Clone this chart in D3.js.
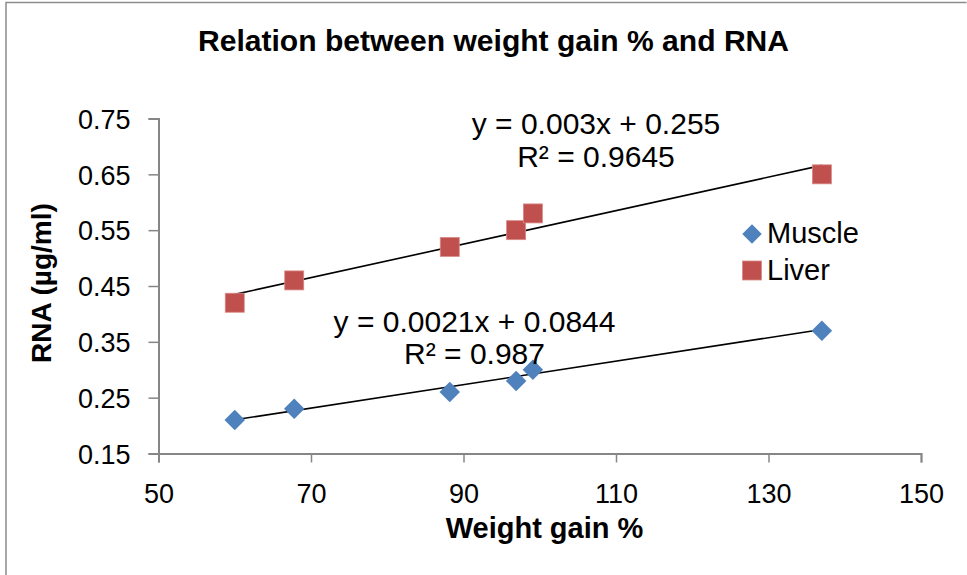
<!DOCTYPE html>
<html>
<head>
<meta charset="utf-8">
<script src="https://cdn.jsdelivr.net/npm/d3@7"></script>
<style>
  html, body { margin: 0; padding: 0; background: #fff; }
  svg { display: block; font-family: "Liberation Sans", Arial, sans-serif; }
</style>
</head>
<body>
<svg id="chart" width="967" height="575"></svg>
<script>
// Weight gain (%) of each group
const weightGain = [60, 67.8, 88.2, 96.9, 99.1, 137];
// RNA concentration (µg/ml) per tissue
const muscleRNA = [0.21, 0.23, 0.26, 0.28, 0.30, 0.37];
const liverRNA  = [0.42, 0.46, 0.52, 0.55, 0.58, 0.65];
// Linear trendlines: [slope, intercept, R²]
const muscleFit = [0.0021, 0.0844, 0.987];
const liverFit  = [0.003, 0.255, 0.9645];
// Axis ticks
const xTicks = [50, 70, 90, 110, 130, 150];
const yTicks = [0.15, 0.25, 0.35, 0.45, 0.55, 0.65, 0.75];
const seriesNames = ["Muscle", "Liver"];

const BLUE = "#4F81BD", RED = "#C0504D", AXIS = "#868686";
const FONT = "'Liberation Sans', Arial, sans-serif";

const svg = d3.select("#chart");

// outer frame
svg.append("path")
  .attr("d", "M6,575 V2.5 H966.5")
  .attr("fill", "none").attr("stroke", "#8c8c8c").attr("stroke-width", 1.5);

const x = d3.scaleLinear().domain([50, 150]).range([158.5, 921]);
const y = d3.scaleLinear().domain([0.15, 0.75]).range([453.5, 118.5]);

// title
svg.append("text")
  .attr("x", 493.5).attr("y", 51)
  .attr("text-anchor", "middle")
  .attr("font-size", 30).attr("font-weight", "bold")
  .attr("textLength", 591).attr("lengthAdjust", "spacingAndGlyphs")
  .text("Relation between weight gain % and RNA");

// y axis
const yAxis = svg.append("g")
  .attr("transform", `translate(${x(50)},0)`)
  .call(d3.axisLeft(y).tickValues(yTicks).tickFormat(d3.format(".2f")).tickSize(10).tickPadding(18));
// x axis
const xAxis = svg.append("g")
  .attr("transform", `translate(0,${y(0.15)})`)
  .call(d3.axisBottom(x).tickValues(xTicks).tickFormat(d3.format("d")).tickSize(9).tickPadding(21));

[yAxis, xAxis].forEach(g => {
  g.select(".domain").attr("stroke", AXIS).attr("stroke-width", 2);
  g.selectAll(".tick line").attr("stroke", AXIS).attr("stroke-width", 1.5);
  g.selectAll(".tick text").attr("fill", "#000").attr("font-size", 27)
    .attr("font-family", FONT);
});
yAxis.selectAll(".tick text").attr("dy", "0.36em");
xAxis.selectAll(".tick text").attr("dy", "0.72em");

// axis titles
svg.append("text")
  .attr("x", 544.5).attr("y", 538)
  .attr("text-anchor", "middle")
  .attr("font-size", 29).attr("font-weight", "bold")
  .text("Weight gain %");

svg.append("text")
  .attr("transform", "translate(51,283) rotate(-90)")
  .attr("text-anchor", "middle")
  .attr("font-size", 28).attr("font-weight", "bold")
  .text("RNA (µg/ml)");

// trendlines, drawn over the data range from the stated equations
const xMin = d3.min(weightGain), xMax = d3.max(weightGain);
[muscleFit, liverFit].forEach(f => {
  svg.append("line")
    .attr("x1", x(xMin)).attr("y1", y(f[0] * xMin + f[1]))
    .attr("x2", x(xMax)).attr("y2", y(f[0] * xMax + f[1]))
    .attr("stroke", "#000").attr("stroke-width", 1.6);
});

// markers
const diamond = d3.symbol().type(d3.symbolSquare).size(210);
svg.append("g").selectAll("path")
  .data(weightGain.map((w, i) => [w, muscleRNA[i]]))
  .join("path")
  .attr("d", diamond)
  .attr("transform", d => `translate(${x(d[0])},${y(d[1])}) rotate(45)`)
  .attr("fill", BLUE);

svg.append("g").selectAll("rect")
  .data(weightGain.map((w, i) => [w, liverRNA[i]]))
  .join("rect")
  .attr("x", d => x(d[0]) - 9.5).attr("y", d => y(d[1]) - 9.5)
  .attr("width", 19).attr("height", 19)
  .attr("fill", RED).attr("stroke", "#d88a88").attr("stroke-width", 0.8);

// trendline equations
function eqLabel(f, cx, y1, y2) {
  svg.append("text").attr("x", cx).attr("y", y1).attr("text-anchor", "middle")
    .attr("font-size", 30).text(`y = ${f[0]}x + ${f[1]}`);
  svg.append("text").attr("x", cx).attr("y", y2).attr("text-anchor", "middle")
    .attr("font-size", 30).text(`R² = ${f[2]}`);
}
eqLabel(liverFit, 596, 134, 166.5);
eqLabel(muscleFit, 474.5, 331.5, 364);

// legend
const legend = svg.append("g");
legend.append("path")
  .attr("d", d3.symbol().type(d3.symbolSquare).size(190))
  .attr("transform", "translate(752,234) rotate(45)")
  .attr("fill", BLUE);
legend.append("rect")
  .attr("x", 742.5).attr("y", 261).attr("width", 19).attr("height", 19)
  .attr("fill", RED).attr("stroke", "#d88a88").attr("stroke-width", 0.8);
[243, 280].forEach((by, i) => {
  legend.append("text").attr("x", 767).attr("y", by)
    .attr("font-size", 29).text(seriesNames[i]);
});
</script>
</body>
</html>
